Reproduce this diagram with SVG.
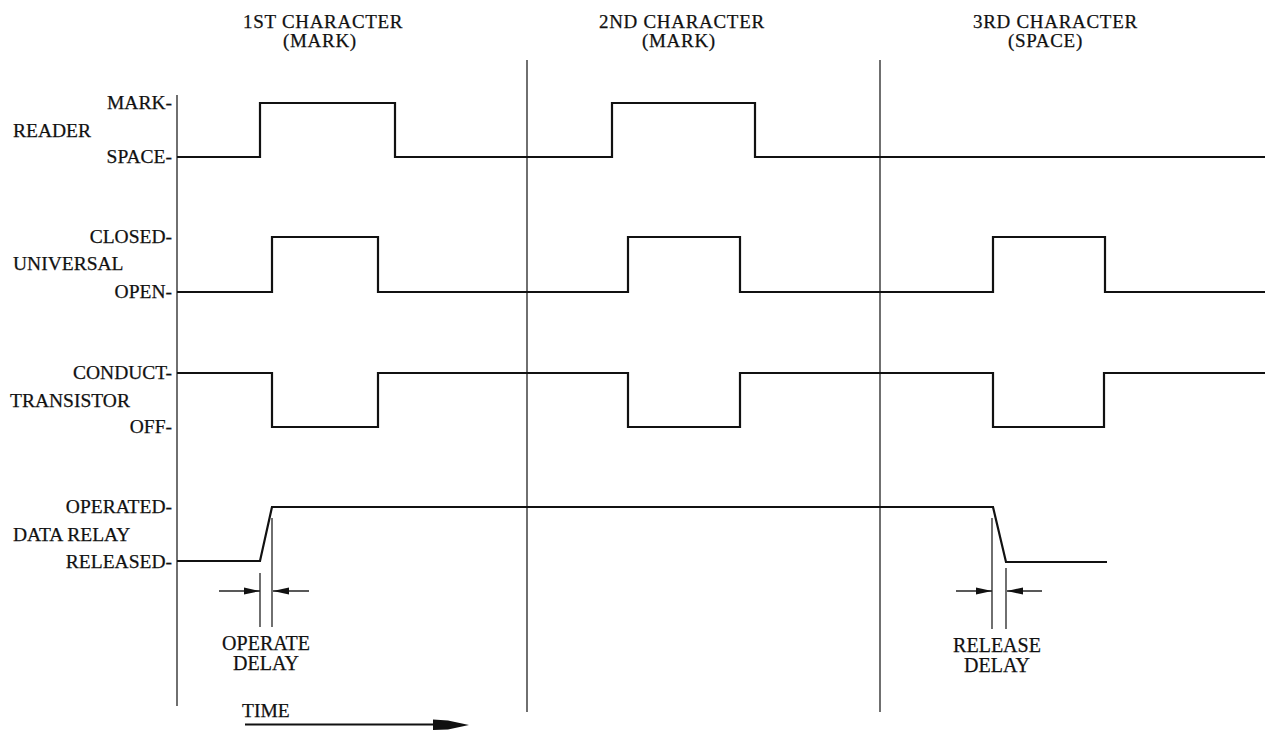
<svg xmlns="http://www.w3.org/2000/svg" width="1268" height="733" viewBox="0 0 1268 733">
<style>
text{font-family:"Liberation Serif","Times New Roman",serif;fill:#111;stroke:#111;stroke-width:0.25;}
.hd{font-size:19px;letter-spacing:0.7px;}
.lb{font-size:19.5px;}
.r{text-anchor:end;}
.dl{font-size:20px;text-anchor:middle;}
.axis{stroke:#222;stroke-width:1.3;fill:none;}
.sig{stroke:#111;stroke-width:2.2;fill:none;stroke-linejoin:miter;}
.dim{stroke:#222;stroke-width:1.3;fill:none;}
</style>
<defs>
<marker id="ah" viewBox="0 0 16 8" refX="16" refY="4" markerWidth="16" markerHeight="8" markerUnits="userSpaceOnUse" orient="auto">
<path d="M0,0.5 L16,4 L0,7.5 Z" fill="#111"/>
</marker>
</defs>
<rect width="1268" height="733" fill="#fff"/>
<g id="headers">
<text class="hd" x="243" y="28">1ST CHARACTER</text>
<text class="hd" x="283" y="47">(MARK)</text>
<text class="hd" x="599" y="28">2ND CHARACTER</text>
<text class="hd" x="642" y="47">(MARK)</text>
<text class="hd" x="973" y="28">3RD CHARACTER</text>
<text class="hd" x="1008" y="47">(SPACE)</text>
</g>
<g id="axes">
<line class="axis" x1="177" y1="95" x2="177" y2="706"/>
<line class="axis" x1="527" y1="60" x2="527" y2="712"/>
<line class="axis" x1="880" y1="60" x2="880" y2="712"/>
</g>
<g id="reader">
<text class="lb r" x="172" y="109">MARK-</text>
<text class="lb" x="13" y="137">READER</text>
<text class="lb r" x="172" y="163">SPACE-</text>
<path class="sig" d="M177,157 H260 V103 H395 V157 H612 V103 H755 V157 H1265"/>
</g>
<g id="universal">
<text class="lb r" x="172" y="243">CLOSED-</text>
<text class="lb" x="13" y="270">UNIVERSAL</text>
<text class="lb r" x="172" y="298">OPEN-</text>
<path class="sig" d="M177,292 H272 V237 H378 V292 H628 V237 H740 V292 H993 V237 H1105 V292 H1265"/>
</g>
<g id="transistor">
<text class="lb r" x="172" y="379">CONDUCT-</text>
<text class="lb" x="10" y="407">TRANSISTOR</text>
<text class="lb r" x="172" y="433">OFF-</text>
<path class="sig" d="M177,373 H272 V427 H378 V373 H628 V427 H740 V373 H993 V427 H1104 V373 H1265"/>
</g>
<g id="data-relay">
<text class="lb r" x="172" y="513">OPERATED-</text>
<text class="lb" x="13" y="541">DATA RELAY</text>
<text class="lb r" x="172" y="568">RELEASED-</text>
<path class="sig" d="M177,561 H260 L272,507 H993 L1006,562 H1107"/>
</g>
<g id="connectors">
<line class="dim" x1="260" y1="573" x2="260" y2="627"/>
<line class="dim" x1="272" y1="518" x2="272" y2="627"/>
<line class="dim" x1="219" y1="591" x2="260" y2="591" marker-end="url(#ah)"/>
<line class="dim" x1="309" y1="591" x2="273" y2="591" marker-end="url(#ah)"/>
<line class="dim" x1="992" y1="518" x2="992" y2="629"/>
<line class="dim" x1="1006" y1="568" x2="1006" y2="629"/>
<line class="dim" x1="956" y1="591" x2="992" y2="591" marker-end="url(#ah)"/>
<line class="dim" x1="1042" y1="591" x2="1007" y2="591" marker-end="url(#ah)"/>
<line x1="245" y1="724.5" x2="436" y2="724.5" stroke="#111" stroke-width="2"/>
<polygon points="433,719.5 448,720.5 469,725 448,729.5 433,730" fill="#111"/>
</g>
<g id="annotations">
<text class="dl" x="266" y="650">OPERATE</text>
<text class="dl" x="266" y="670">DELAY</text>
<text class="dl" x="997" y="652">RELEASE</text>
<text class="dl" x="997" y="672">DELAY</text>
<text class="lb" x="242" y="717">TIME</text>
</g>
</svg>
